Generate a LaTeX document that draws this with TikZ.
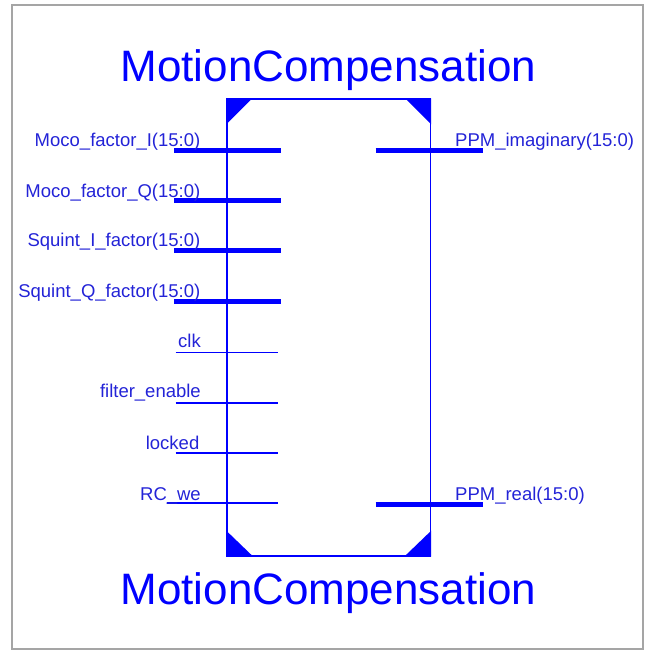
\documentclass[tikz,border=0pt]{standalone}
\usepackage{fontspec}
\setmainfont{Liberation Sans}
\definecolor{pinblue}{RGB}{0,0,255}
\definecolor{labelblue}{RGB}{35,35,215}
\definecolor{frame}{RGB}{165,165,165}
\tikzset{
  title/.style={text=pinblue, inner sep=0pt, anchor=base, font=\fontsize{44}{44}\selectfont},
  pinlabel/.style={text=labelblue, inner sep=0pt, font=\fontsize{18.5}{20}\selectfont},
  inlabel/.style={pinlabel, anchor=base east},
  outlabel/.style={pinlabel, anchor=base west},
  bus/.style={draw=pinblue, line width=5pt},
  wire/.style={draw=pinblue, line width=1.4pt},
  corner/.style={fill=pinblue},
}
\begin{document}
\begin{tikzpicture}[x=1pt,y=-1pt]
  \useasboundingbox (0,0) rectangle (651,650);
  % outer frame
  \draw[frame, line width=2pt] (12,5.5) rectangle (642.5,648.5);

  % component symbol
  \node[draw=pinblue, line width=1.4pt, minimum width=203.5pt, minimum height=457pt,
        inner sep=0pt] (box) at (328.75,327.5) {};
  \fill[corner] (box.north west) -- ++(26,0) -- ++(-26,26) -- cycle;
  \fill[corner] (box.north east) -- ++(-26,0) -- ++(26,26) -- cycle;
  \fill[corner] (box.south west) -- ++(27,0) -- ++(-27,-26) -- cycle;
  \fill[corner] (box.south east) -- ++(-27,0) -- ++(27,-26) -- cycle;

  % titles
  \node[title] (top) at (328.5,81.7) {MotionCompensation};
  \node[title] (bottom) at (328.5,604) {MotionCompensation};

  % input pin ends
  \coordinate (i1a) at (174,150.5);   \coordinate (i1b) at (281,150.5);
  \coordinate (i2a) at (174,201);     \coordinate (i2b) at (281,201);
  \coordinate (i3a) at (174,250.5);   \coordinate (i3b) at (281,250.5);
  \coordinate (i4a) at (174,301);     \coordinate (i4b) at (281,301);
  \coordinate (i5a) at (175.5,352.5); \coordinate (i5b) at (278,352.5);
  \coordinate (i6a) at (175.5,403);   \coordinate (i6b) at (278,403);
  \coordinate (i7a) at (175.5,453);   \coordinate (i7b) at (278,453);
  \coordinate (i8a) at (167,503);     \coordinate (i8b) at (278,503);
  % output pin ends
  \coordinate (o1a) at (375.5,150.7); \coordinate (o1b) at (483,150.7);
  \coordinate (o2a) at (375.5,504);   \coordinate (o2b) at (483,504);

  % input pins
  \draw[bus] (i1a) -- (i1b);
  \draw[bus] (i2a) -- (i2b);
  \draw[bus] (i3a) -- (i3b);
  \draw[bus] (i4a) -- (i4b);
  \draw[wire] (i5a) -- (i5b);
  \draw[wire] (i6a) -- (i6b);
  \draw[wire] (i7a) -- (i7b);
  \draw[wire] (i8a) -- (i8b);
  % output pins
  \draw[bus] (o1a) -- (o1b);
  \draw[bus] (o2a) -- (o2b);

  % pin names
  \node[inlabel] (l1) at (200.5,146.7) {Moco\_factor\_I(15:0)};
  \node[inlabel] (l2) at (200.5,197) {Moco\_factor\_Q(15:0)};
  \node[inlabel] (l3) at (200.5,246.5) {Squint\_I\_factor(15:0)};
  \node[inlabel] (l4) at (200.5,297) {Squint\_Q\_factor(15:0)};
  \node[inlabel] (l5) at (201,347.5) {clk};
  \node[inlabel] (l6) at (201,397.5) {filter\_enable};
  \node[inlabel] (l7) at (199.5,449) {locked};
  \node[inlabel] (l8) at (201,500) {RC\_we};
  \node[outlabel] (r1) at (455,147) {PPM\_imaginary(15:0)};
  \node[outlabel] (r2) at (455,500.7) {PPM\_real(15:0)};
\end{tikzpicture}
\end{document}
